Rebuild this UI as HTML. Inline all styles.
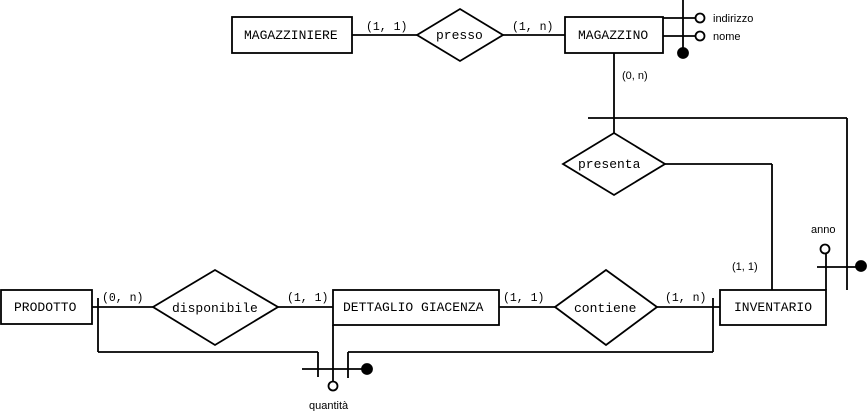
<!DOCTYPE html>
<html><head><meta charset="utf-8"><style>
html,body{margin:0;padding:0;background:#fff;}
svg text{font-family:"Liberation Mono",monospace;font-size:13px;fill:#000;}
svg text.c{font-size:11.5px;}
svg text.s{font-family:"Liberation Sans",sans-serif;font-size:11px;}
</style></head><body>
<svg width="867" height="411" viewBox="0 0 867 411" xmlns="http://www.w3.org/2000/svg">
<g stroke="#000" stroke-width="1.8" fill="none">
<rect x="232" y="17" width="120" height="36" fill="#fff"/>
<polygon points="417,35 460,9 503,35 460,61" fill="#fff"/>
<rect x="565" y="17" width="98" height="36" fill="#fff"/>
<line x1="352" y1="35" x2="417" y2="35"/>
<line x1="503" y1="35" x2="565" y2="35"/>
<line x1="683" y1="0" x2="683" y2="52"/>
<line x1="663" y1="18" x2="696" y2="18"/>
<line x1="663" y1="36" x2="696" y2="36"/>
<circle cx="700" cy="18" r="4.5" fill="#fff"/>
<circle cx="700" cy="36" r="4.5" fill="#fff"/>
<circle cx="683" cy="53" r="5" fill="#000"/>
<line x1="614" y1="53" x2="614" y2="133"/>
<line x1="588" y1="118" x2="847" y2="118"/>
<line x1="847" y1="118" x2="847" y2="290"/>
<polygon points="563,164 614,133 665,164 614,195" fill="#fff"/>
<line x1="665" y1="164" x2="772" y2="164"/>
<line x1="772" y1="164" x2="772" y2="290"/>
<rect x="1" y="290" width="91" height="34" fill="#fff"/>
<polygon points="153,307 215,270 278,307 215,345" fill="#fff"/>
<rect x="333" y="290" width="166" height="35" fill="#fff"/>
<polygon points="555,307 606,270 657,307 606,345" fill="#fff"/>
<rect x="720" y="290" width="106" height="35" fill="#fff"/>
<line x1="92" y1="307" x2="153" y2="307"/>
<line x1="278" y1="307" x2="333" y2="307"/>
<line x1="499" y1="307" x2="555" y2="307"/>
<line x1="657" y1="307" x2="720" y2="307"/>
<line x1="826" y1="254" x2="826" y2="290"/>
<circle cx="825" cy="249" r="4.5" fill="#fff"/>
<line x1="817" y1="267" x2="858" y2="267"/>
<circle cx="861" cy="266" r="5" fill="#000"/>
<line x1="98" y1="298" x2="98" y2="352"/>
<line x1="98" y1="352" x2="318" y2="352"/>
<line x1="318" y1="352" x2="318" y2="377"/>
<line x1="333" y1="325" x2="333" y2="381"/>
<circle cx="333" cy="386" r="4.5" fill="#fff"/>
<line x1="302" y1="369" x2="363" y2="369"/>
<circle cx="367" cy="369" r="5" fill="#000"/>
<line x1="348" y1="352" x2="348" y2="378"/>
<line x1="348" y1="352" x2="713" y2="352"/>
<line x1="713" y1="298" x2="713" y2="352"/>
</g>
<text x="244" y="39">MAGAZZINIERE</text>
<text x="436" y="39">presso</text>
<text x="578" y="39">MAGAZZINO</text>
<text class="c" x="366" y="30">(1, 1)</text>
<text class="c" x="512" y="30">(1, n)</text>
<text class="s" x="713" y="22">indirizzo</text>
<text class="s" x="713" y="40">nome</text>
<text class="s" x="622" y="79">(0, n)</text>
<text x="578" y="168">presenta</text>
<text class="s" x="732" y="270">(1, 1)</text>
<text class="s" x="811" y="233">anno</text>
<text x="14" y="311">PRODOTTO</text>
<text x="172" y="312">disponibile</text>
<text x="343" y="311">DETTAGLIO GIACENZA</text>
<text x="574" y="312">contiene</text>
<text x="734" y="311">INVENTARIO</text>
<text class="c" x="102" y="301">(0, n)</text>
<text class="c" x="287" y="301">(1, 1)</text>
<text class="c" x="503" y="301">(1, 1)</text>
<text class="c" x="665" y="301">(1, n)</text>
<text class="s" x="309" y="409">quantità</text>
</svg>
</body></html>
